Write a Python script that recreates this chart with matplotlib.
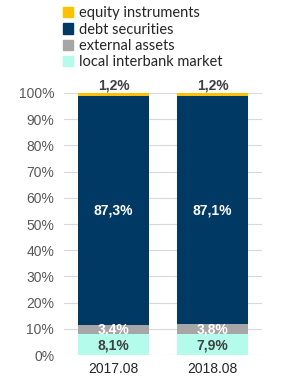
import matplotlib
matplotlib.use("Agg")
import matplotlib.pyplot as plt
from matplotlib.patches import Patch

categories = ["2017.08", "2018.08"]
local_interbank = [8.1, 7.9]
external_assets = [3.4, 3.8]
debt_securities = [87.3, 87.1]
equity_instruments = [1.2, 1.2]
yticks = [0, 10, 20, 30, 40, 50, 60, 70, 80, 90, 100]

c_local = "#B3FCEB"
c_ext = "#A6A6A6"
c_debt = "#003A64"
c_eq = "#FFC000"

fig = plt.figure(figsize=(2.83, 3.81), dpi=100)
ax = fig.add_axes([0.226, 0.068, 0.700, 0.688])

x = list(range(len(categories)))
w = 0.72
ax.bar(x, local_interbank, w, color=c_local, zorder=2)
b1 = local_interbank
ax.bar(x, external_assets, w, bottom=b1, color=c_ext, zorder=2)
b2 = [a + b for a, b in zip(b1, external_assets)]
ax.bar(x, debt_securities, w, bottom=b2, color=c_debt, zorder=2)
b3 = [a + b for a, b in zip(b2, debt_securities)]
ax.bar(x, equity_instruments, w, bottom=b3, color=c_eq, zorder=2)

fmt = lambda v: f"{v:.1f}".replace(".", ",") + "%"
fam = ["Liberation Sans", "DejaVu Sans"]
fs = 10
for i in x:
    ax.text(i, local_interbank[i] / 2 - 0.3, fmt(local_interbank[i]), ha="center", va="center",
            color="#404040", fontweight="bold", fontsize=fs, family=fam, zorder=3)
    ax.text(i, b1[i] + external_assets[i] / 2, fmt(external_assets[i]), ha="center", va="center",
            color="white", fontweight="bold", fontsize=fs, family=fam, zorder=3)
    ax.text(i, b2[i] + debt_securities[i] / 2, fmt(debt_securities[i]), ha="center", va="center",
            color="white", fontweight="bold", fontsize=fs, family=fam, zorder=3)
    ax.text(i, b3[i] + equity_instruments[i] + 0.3, fmt(equity_instruments[i]), ha="center", va="bottom",
            color="#404040", fontweight="bold", fontsize=fs, family=fam, zorder=3)

ax.set_xlim(-0.5, 1.5)
ax.set_ylim(0, 100)
ax.set_yticks(yticks)
ax.set_yticklabels([f"{t}%" for t in yticks], family=fam, fontsize=10, color="#595959")
ax.set_xticks(x)
ax.set_xticklabels(categories, family=fam, fontsize=10, color="#262626")
ax.tick_params(axis="y", length=0, pad=7)
ax.tick_params(axis="x", length=0, pad=5)
ax.yaxis.grid(True, color="#D9D9D9", linewidth=0.8, zorder=0)
ax.set_axisbelow(True)
for s in ax.spines.values():
    s.set_visible(False)

handles = [Patch(color=c_eq, label="equity instruments"),
           Patch(color=c_debt, label="debt securities"),
           Patch(color=c_ext, label="external assets"),
           Patch(color=c_local, label="local interbank market")]
fig.legend(handles=handles, loc="upper left", bbox_to_anchor=(0.185, 1.01), frameon=False,
           prop={"family": ["Lato", "DejaVu Sans"], "size": 10.5}, handlelength=0.7,
           handleheight=0.7, handletextpad=0.4, labelspacing=0.15, borderpad=0.2,
           labelcolor="#262626")

fig.savefig("out.png", dpi=100)
